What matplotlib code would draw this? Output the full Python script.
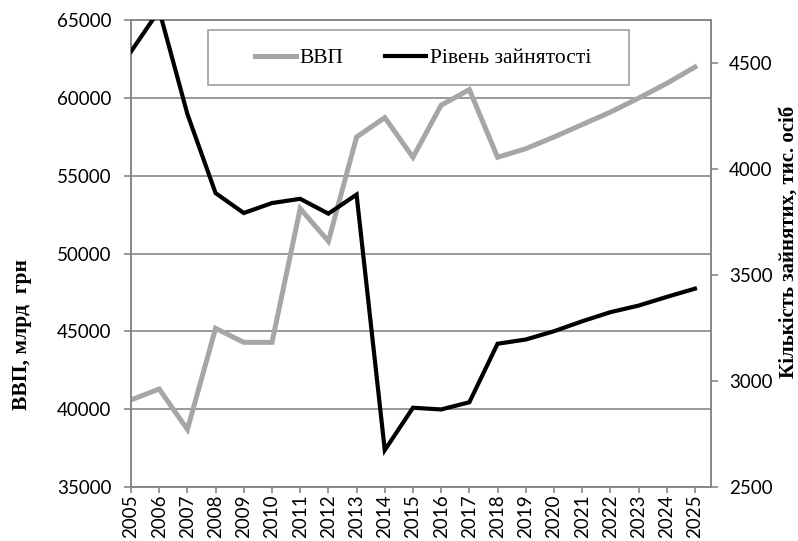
import matplotlib
matplotlib.use('Agg')
import matplotlib.pyplot as plt
from matplotlib.patches import Rectangle
from matplotlib.lines import Line2D

years = list(range(2005, 2026))
vvp = [40600, 41300, 38700, 45200, 44300, 44300, 52900, 50800, 57500, 58750,
       56200, 59550, 60550, 56200, 56750, 57500, 58300, 59100, 60000, 60950, 62000]
employed = [4555, 4750, 4260, 3887, 3793, 3840, 3860, 3790, 3880, 2674,
            2874, 2866, 2900, 3176, 3196, 3235, 3282, 3325, 3356, 3397, 3436]

grid_col = '#878787'
tick_font = 'Lato'
serif = 'Liberation Serif'

fig = plt.figure(figsize=(7.98, 5.41), dpi=100)
ax = fig.add_axes([131/798, 1-487/541, (711-131)/798, (487-20.4)/541])
ax2 = ax.twinx()

ax.plot(years, vvp, color='#a6a6a6', lw=3.6, solid_joinstyle='miter', zorder=3)
ax2.plot(years, employed, color='black', lw=3.0, solid_joinstyle='miter', zorder=3)

ax.set_xlim(2005, 2025.57)
ax.set_ylim(35000, 65000)
ax.set_yticks(range(35000, 65001, 5000))
ax2.set_ylim(2500, 4702)
ax2.set_yticks(range(2500, 4501, 500))
ax.set_xticks(years)
ax.set_xticklabels([str(y) for y in years], rotation=90, fontfamily=tick_font, fontsize=13.5)

ax.grid(axis='y', color=grid_col, lw=1.2)
ax.set_axisbelow(True)
for a in (ax, ax2):
    for s in a.spines.values():
        s.set_color(grid_col)
        s.set_linewidth(1.2)
ax.tick_params(axis='y', direction='out', length=5, color=grid_col, width=1.2, pad=9)
ax.tick_params(axis='x', direction='out', length=4.5, color=grid_col, width=1.2, pad=1)
ax2.tick_params(axis='y', direction='out', length=5, color=grid_col, width=1.2, pad=8)
for lab in ax.get_yticklabels() + ax2.get_yticklabels():
    lab.set_fontfamily(tick_font)
    lab.set_fontsize(13.5)

fig.text(22/798, 1-335/541, 'ВВП, млрд  грн', rotation=90, ha='center', va='center',
         fontfamily=serif, fontweight='bold', fontsize=15.5)
fig.text(789/798, 1-242/541, 'Кількість зайнятих, тис. осіб', rotation=90, ha='center', va='center',
         fontfamily=serif, fontweight='bold', fontsize=15)

# legend box
fig.patches.append(Rectangle((208/798, 1-85/541), (629-208)/798, 55/541, transform=fig.transFigure,
                             facecolor='white', edgecolor='#a0a0a0', lw=1.2, zorder=5))
handles = [Line2D([], [], color='#a6a6a6', lw=3.6), Line2D([], [], color='black', lw=3.0)]
leg = fig.legend(handles, ['ВВП', 'Рівень зайнятості'], loc='center', ncol=2, frameon=False,
                 bbox_to_anchor=(423/798, 1-58/541), prop={'family': serif, 'size': 15.5},
                 handlelength=1.9, handletextpad=0.2, columnspacing=1.9)
leg.set_zorder(6)

fig.savefig('out.png', dpi=100)
